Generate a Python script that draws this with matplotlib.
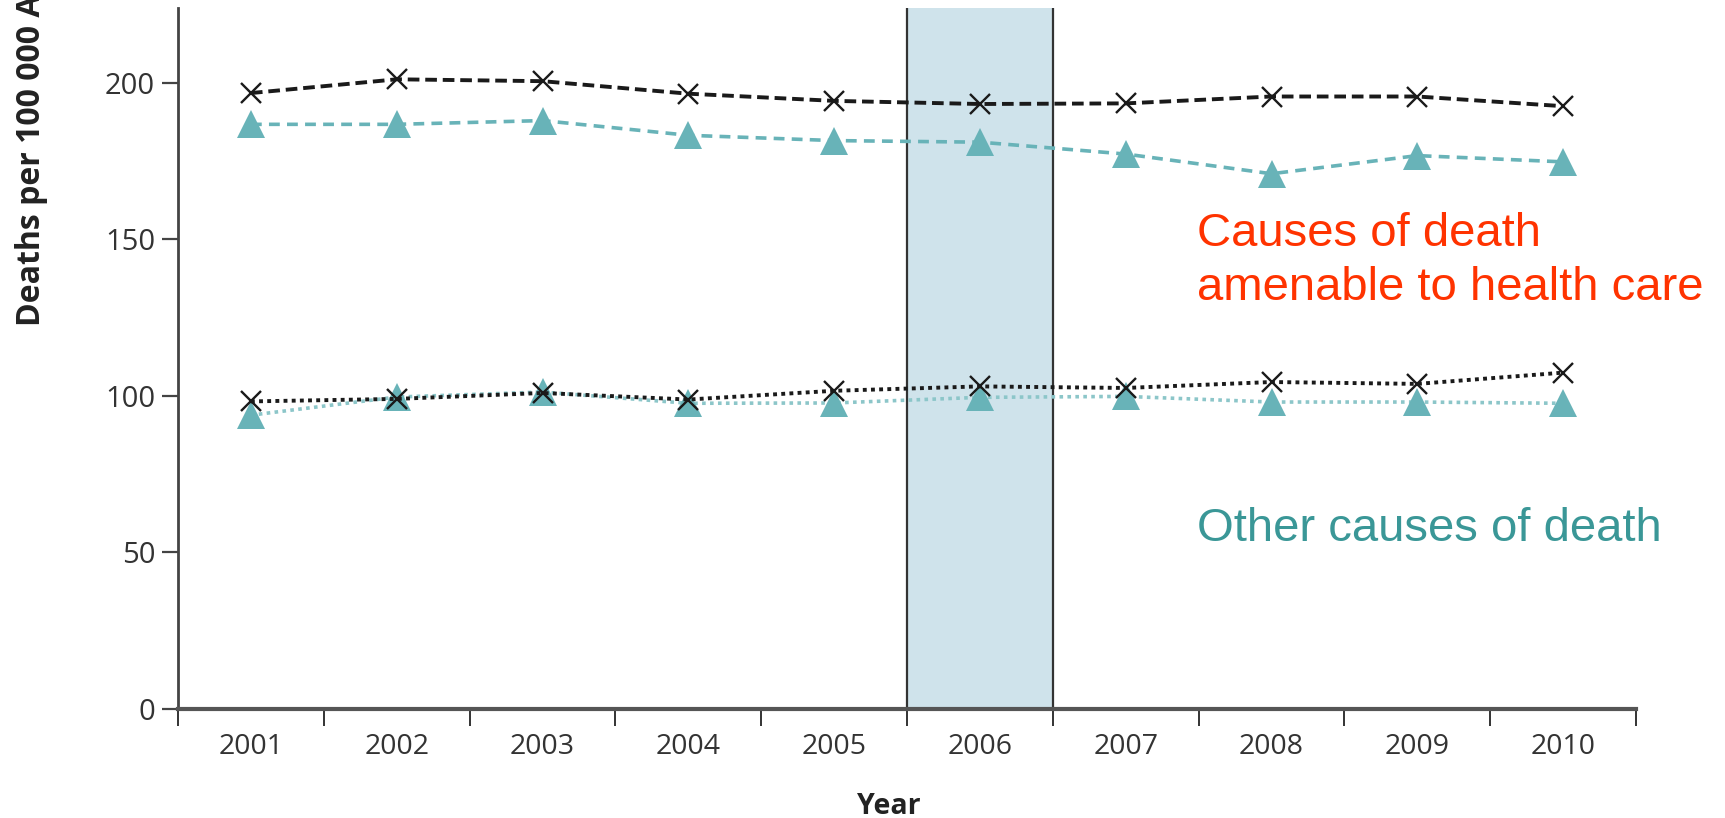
import matplotlib
matplotlib.use("Agg")
import matplotlib.pyplot as plt
import numpy as np

years = ["2001", "2002", "2003", "2004", "2005", "2006", "2007", "2008", "2009", "2010"]
# amenable to health care
amenable_black = [196.8, 201.2, 200.6, 196.6, 194.3, 193.3, 193.5, 195.7, 195.7, 192.6]
amenable_teal = [186.8, 186.8, 188.0, 183.3, 181.6, 181.1, 177.3, 171.0, 176.8, 174.8]
# other causes
other_black = [98.2, 99.0, 100.9, 98.8, 101.6, 103.0, 102.5, 104.4, 103.8, 107.4]
other_teal = [93.8, 99.6, 101.2, 97.6, 97.7, 99.5, 99.8, 98.0, 98.0, 97.6]
highlight_year = "2006"

teal = "#68b3b8"
x = np.arange(1, len(years) + 1)

fig = plt.figure(figsize=(17.25, 8.18), dpi=100)
ax = fig.add_axes([178 / 1725, 1 - 708.5 / 818, (1636 - 178) / 1725, (708.5 - 8) / 818])

hx = years.index(highlight_year) + 1
ax.axvspan(hx - 0.5, hx + 0.5, facecolor="#cfe3eb", edgecolor="none", zorder=0)
ax.axvline(hx - 0.5, color="#333333", lw=1.6, zorder=1)
ax.axvline(hx + 0.5, color="#333333", lw=1.6, zorder=1)

ax.plot(x, amenable_teal, ls=(0, (3, 2)), color=teal, lw=2.6, marker="^", ms=20,
        markeredgewidth=0, zorder=3)
ax.plot(x, amenable_black, ls=(0, (3, 1.5)), color="#1a1a1a", lw=2.8, marker="x", ms=14.5,
        markeredgewidth=1.7, zorder=4)
ax.plot(x, other_teal, ls=(0, (1, 1.2)), color="#8cc6c9", lw=2.6, marker="^", ms=20,
        markeredgewidth=0, markerfacecolor=teal, zorder=3)
ax.plot(x, other_black, ls=(0, (1, 1.1)), color="#1a1a1a", lw=2.8, marker="x", ms=14.5,
        markeredgewidth=1.7, zorder=4)

ax.set_xlim(0.5, len(years) + 0.5)
ax.set_ylim(0, 224)
ax.set_yticks([0, 50, 100, 150, 200])
ax.set_xticks(np.arange(0.5, len(years) + 1, 1))
ax.set_xticklabels([])
ax.set_xticks(x, minor=True)
ax.set_xticklabels(years, minor=True)
ax.tick_params(axis="x", which="major", length=12, width=1.4, color="#333333")
ax.tick_params(axis="x", which="minor", length=0, pad=18, labelsize=20.5, labelcolor="#333333")
ax.tick_params(axis="y", length=11.5, width=1.6, color="#444444", pad=5, labelsize=21,
               labelcolor="#333333")
for lab in ax.get_xticklabels(minor=True) + ax.get_yticklabels():
    lab.set_family("Open Sans")

for s in ["top", "right"]:
    ax.spines[s].set_visible(False)
ax.spines["left"].set_color("#444444")
ax.spines["left"].set_linewidth(2)
ax.spines["bottom"].set_color("#555555")
ax.spines["bottom"].set_linewidth(3)

fig.text(32 / 1725, 1 - 326 / 818, "Deaths per 100 000 Americans", rotation=90,
         ha="center", va="bottom", fontsize=23, fontweight="bold", family="Open Sans",
         color="#222222")
fig.text(889 / 1725, 1 - 806 / 818, "Year", ha="center", va="center", fontsize=20.5,
         fontweight="bold", family="Open Sans", color="#222222")

fig.text(1197 / 1725, 1 - 246 / 818, "Causes of death", fontsize=34, color="#ff3300",
         family="Liberation Sans", va="baseline")
fig.text(1197 / 1725, 1 - 300 / 818, "amenable to health care", fontsize=34, color="#ff3300",
         family="Liberation Sans", va="baseline")
fig.text(1197 / 1725, 1 - 541 / 818, "Other causes of death", fontsize=34, color="#3a9797",
         family="Liberation Sans", va="baseline")

fig.savefig("out.png", dpi=100)
